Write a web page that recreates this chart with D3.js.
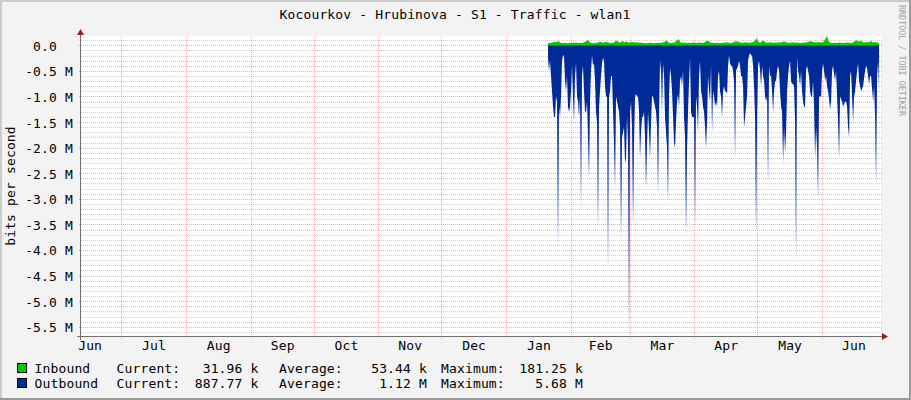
<!DOCTYPE html>
<html>
<head>
<meta charset="utf-8">
<script src="https://cdn.jsdelivr.net/npm/d3@7"></script>
<style>
  body { margin: 0; background: #fff; }
  svg text { font-family: "DejaVu Sans Mono", monospace; white-space: pre; }
</style>
</head>
<body>
<div id="chart"></div>
<script>
// time window of the graph and of the samples
const timeStart = new Date(2018, 5, 11, 21, 0);
const timeEnd = new Date(2019, 5, 29, 4, 0);
const dataStart = new Date(2019, 0, 21, 1, 0);
const dataEnd = new Date(2019, 5, 28, 6, 0);

// outbound traffic, M bits per second (drawn downwards)
const outbound = [
  0.25, 0.5, 0.3, 0.6, 0.9, 1.2, 1.4, 1.4, 1.0, 1.1,
  4.0, 1.2, 1.4, 1.0, 0.3, 0.2, 0.2, 0.7, 0.9, 0.6,
  1.2, 1.3, 1.2, 0.9, 0.4, 1.0, 1.5, 0.6, 0.35, 1.0,
  1.1, 1.4, 1.0, 3.2, 0.6, 0.4, 0.9, 1.3, 1.3, 1.1,
  1.8, 2.6, 1.1, 0.5, 0.2, 0.4, 0.35, 0.7, 1.3, 1.5,
  3.6, 1.2, 0.9, 0.6, 0.35, 0.25, 0.3, 0.8, 1.0, 1.0,
  4.4, 1.0, 0.9, 0.6, 0.6, 1.3, 1.9, 2.8, 1.0, 1.1,
  1.2, 1.3, 1.6, 3.8, 1.8, 1.7, 1.6, 2.3, 2.2, 1.4,
  1.9, 5.68, 1.3, 1.1, 1.6, 3.5, 1.9, 1.0, 0.95, 1.0,
  1.0, 1.3, 2.2, 1.7, 1.4, 1.4, 1.3, 1.8, 2.8, 1.9,
  1.3, 1.7, 2.2, 1.5, 1.0, 1.0, 1.1, 1.2, 1.3, 1.6,
  2.9, 1.3, 0.3, 0.5, 1.3, 0.35, 0.6, 1.4, 1.7, 2.0,
  3.05, 1.0, 0.45, 0.6, 0.9, 1.4, 1.9, 2.0, 1.5, 1.1,
  0.95, 1.2, 0.7, 0.6, 0.8, 0.5, 1.4, 1.8, 3.7, 2.0,
  1.3, 0.7, 0.25, 1.3, 1.4, 1.4, 1.4, 3.5, 1.0, 1.2,
  1.7, 0.6, 0.3, 0.9, 1.0, 1.2, 1.3, 1.6, 2.0, 1.5,
  0.6, 0.9, 1.1, 0.4, 1.7, 0.9, 1.0, 1.2, 1.1, 1.2,
  0.6, 0.5, 0.9, 1.0, 1.4, 0.9, 0.8, 0.9, 0.9, 0.95,
  0.4, 0.2, 0.35, 0.4, 0.4, 0.5, 0.7, 2.2, 0.5, 0.45,
  0.4, 0.3, 0.4, 0.6, 0.6, 0.8, 1.6, 1.4, 1.2, 1.0,
  0.3, 0.2, 0.15, 0.2, 0.2, 0.4, 0.8, 1.4, 3.7, 1.4,
  0.4, 0.3, 0.5, 0.8, 0.4, 0.6, 0.7, 1.0, 1.1, 1.0,
  2.7, 0.4, 0.6, 0.6, 0.9, 1.3, 0.9, 0.7, 0.7, 0.5,
  0.4, 0.5, 0.9, 1.2, 1.3, 2.3, 1.6, 2.1, 1.7, 0.9,
  0.6, 0.4, 0.3, 0.7, 0.75, 0.75, 0.8, 1.5, 4.2, 0.25,
  0.5, 0.6, 0.8, 0.5, 0.9, 1.1, 1.2, 1.2, 0.5, 0.4,
  0.5, 0.6, 0.9, 1.0, 1.0, 0.7, 1.2, 2.2, 1.6, 2.0,
  3.0, 1.0, 1.0, 1.0, 0.5, 0.35, 0.5, 0.7, 0.6, 0.8,
  0.9, 1.05, 1.25, 1.1, 0.5, 0.4, 0.55, 0.7, 0.5, 1.0,
  1.5, 2.2, 1.0, 1.05, 1.1, 1.2, 1.15, 1.1, 1.1, 1.2,
  1.6, 1.8, 0.6, 0.5, 1.0, 1.5, 1.0, 0.9, 0.7, 0.5,
  0.35, 0.7, 0.8, 0.9, 0.85, 0.8, 0.65, 0.5, 0.4, 0.45,
  0.6, 0.75, 0.6, 0.6, 0.85, 1.1, 0.8, 1.4, 2.7, 0.6,
  0.3, 0.89
];

// inbound traffic, k bits per second
const inbound = [
  40, 45, 50, 70, 60, 85, 55, 45, 50, 45,
  40, 50, 45, 48, 55, 45, 50, 45, 60, 80,
  105, 55, 45, 40, 50, 55, 75, 50, 60, 70,
  55, 45, 50, 60, 95, 70, 55, 85, 60, 75,
  55, 60, 70, 55, 60, 50, 55, 45, 45, 40,
  45, 50, 45, 40, 45, 50, 45, 55, 65, 95,
  60, 45, 50, 55, 90, 125, 60, 50, 55, 45,
  50, 45, 55, 50, 45, 50, 55, 45, 60, 90,
  85, 55, 50, 45, 50, 45, 45, 50, 55, 60,
  50, 45, 50, 75, 80, 70, 55, 50, 60, 55,
  50, 55, 60, 90, 135, 60, 55, 95, 70, 50,
  55, 60, 50, 55, 50, 60, 55, 70, 75, 55,
  50, 55, 60, 50, 55, 50, 45, 50, 55, 60,
  75, 80, 70, 60, 55, 65, 60, 55, 110, 181,
  70, 50, 45, 50, 45, 55, 50, 45, 50, 55,
  50, 45, 55, 85, 100, 70, 95, 60, 55, 70,
  60, 85, 55, 65, 60, 32
];

const monthLabels = ["Jun", "Jul", "Aug", "Sep", "Oct", "Nov", "Dec", "Jan", "Feb", "Mar", "Apr", "May", "Jun"];
const yTicks = [0, -0.5, -1.0, -1.5, -2.0, -2.5, -3.0, -3.5, -4.0, -4.5, -5.0, -5.5];
const yTickLabels = ["0.0  ", "-0.5 M", "-1.0 M", "-1.5 M", "-2.0 M", "-2.5 M", "-3.0 M", "-3.5 M", "-4.0 M", "-4.5 M", "-5.0 M", "-5.5 M"];

const legendNames = ["Inbound", "Outbound"];
const legendCurrent = ["31.96 k", "887.77 k"];
const legendAverage = ["53.44 k", "1.12 M"];
const legendMaximum = ["181.25 k", "5.68 M"];
const seriesColors = ["#00CC00", "#002A97"];

const W = 911, H = 400;
const plot = { left: 81, top: 36, width: 800, height: 300 };

const svg = d3.select("#chart").append("svg")
    .attr("width", W)
    .attr("height", H);

// fond + cadre
svg.append("rect").attr("width", W).attr("height", H).attr("fill", "#F3F3F3");
svg.append("rect").attr("x", 0).attr("y", 0).attr("width", W).attr("height", 2).attr("fill", "#CBCBCB");
svg.append("rect").attr("x", 0).attr("y", 0).attr("width", 2).attr("height", H).attr("fill", "#CBCBCB");
svg.append("rect").attr("x", 0).attr("y", H - 2).attr("width", W).attr("height", 2).attr("fill", "#999999");
svg.append("rect").attr("x", W - 2).attr("y", 0).attr("width", 2).attr("height", H).attr("fill", "#999999");

svg.append("rect")
    .attr("x", plot.left).attr("y", plot.top)
    .attr("width", plot.width).attr("height", plot.height)
    .attr("fill", "#FFFFFF");

// scales
const x = d3.scaleTime()
    .domain([timeStart, timeEnd])
    .range([plot.left, plot.left + plot.width]);

const y = d3.scaleLinear()
    .domain([-5.68, 0.18125])
    .range([plot.top + plot.height, plot.top]);

const stepOut = (dataEnd - dataStart) / (outbound.length - 1);
const stepIn = (dataEnd - dataStart) / (inbound.length - 1);
const outData = outbound.map((v, i) => ({ t: new Date(+dataStart + i * stepOut), v: -v }));
const inData = inbound.map((v, i) => ({ t: new Date(+dataStart + i * stepIn), v: v / 1000 }));

// grid: minor every 0.1 M, major every 0.5 M, months vertical
const minor = d3.range(-56, 2).map(k => k / 10).filter(v => Math.abs(v * 2 - Math.round(v * 2)) > 1e-6);
const px = v => Math.round(v) + 0.5;

svg.append("g").selectAll("line")
    .data(minor)
    .enter().append("line")
    .attr("x1", plot.left).attr("x2", plot.left + plot.width + 1)
    .attr("y1", d => px(y(d))).attr("y2", d => px(y(d)))
    .attr("stroke", "rgba(140,140,140,0.45)")
    .attr("stroke-dasharray", "1,1");

svg.append("g").selectAll("line")
    .data(yTicks)
    .enter().append("line")
    .attr("x1", plot.left - 2).attr("x2", plot.left + plot.width + 1)
    .attr("y1", d => px(y(d))).attr("y2", d => px(y(d)))
    .attr("stroke", "rgba(222,60,60,0.42)")
    .attr("stroke-dasharray", "1,1");

const monthStarts = d3.timeMonth.range(d3.timeMonth.ceil(timeStart), timeEnd);
svg.append("g").selectAll("line")
    .data(monthStarts)
    .enter().append("line")
    .attr("x1", d => px(x(d))).attr("x2", d => px(x(d)))
    .attr("y1", plot.top).attr("y2", plot.top + plot.height + 3)
    .attr("stroke", "rgba(222,60,60,0.38)")
    .attr("stroke-dasharray", "1,1");

// areas
const area = d3.area()
    .x(d => x(d.t))
    .y0(y(0))
    .y1(d => y(d.v));

svg.append("path")
    .datum(inData)
    .attr("d", area)
    .attr("fill", seriesColors[0]);

svg.append("path")
    .datum(outData)
    .attr("d", area)
    .attr("fill", seriesColors[1]);

// axis lines + arrows
svg.append("line")
    .attr("x1", plot.left - 4).attr("x2", plot.left + plot.width + 2)
    .attr("y1", px(plot.top + plot.height)).attr("y2", px(plot.top + plot.height))
    .attr("stroke", "#707070");
svg.append("line")
    .attr("x1", px(plot.left - 1)).attr("x2", px(plot.left - 1))
    .attr("y1", plot.top - 2).attr("y2", plot.top + plot.height + 4)
    .attr("stroke", "#707070");
svg.append("path")
    .attr("d", `M${plot.left + plot.width + 1},${plot.top + plot.height - 3}l6,3.5l-6,3.5z`)
    .attr("fill", "#9C1C1C");
svg.append("path")
    .attr("d", `M${plot.left - 4},${plot.top - 1}l3.5,-6l3.5,6z`)
    .attr("fill", "#9C1C1C");

// y axis labels
const yAxis = svg.append("g")
    .attr("transform", `translate(${plot.left},0)`)
    .call(d3.axisLeft(y).tickValues(yTicks).tickSize(0).tickPadding(8)
        .tickFormat((d, i) => yTickLabels[i]));
yAxis.select(".domain").remove();
yAxis.selectAll("text")
    .style("font-family", "'DejaVu Sans Mono', monospace")
    .style("font-size", "13px")
    .style("letter-spacing", "0.15px")
    .attr("dy", "0.38em")
    .attr("fill", "#000");

// x axis labels at mid-month
const monthMids = d3.timeMonth.range(d3.timeMonth.floor(timeStart), timeEnd)
    .map(m => new Date((+m + +d3.timeMonth.offset(m, 1)) / 2));
const xAxis = svg.append("g")
    .attr("transform", `translate(0,${plot.top + plot.height})`)
    .call(d3.axisBottom(x).tickValues(monthMids).tickSize(0).tickPadding(5)
        .tickFormat((d, i) => monthLabels[i]));
xAxis.select(".domain").remove();
xAxis.selectAll("text")
    .style("font-family", "'DejaVu Sans Mono', monospace")
    .style("font-size", "13px")
    .style("letter-spacing", "0.15px")
    .attr("fill", "#000");

// title
svg.append("text")
    .attr("x", 455).attr("y", 19)
    .attr("text-anchor", "middle")
    .style("font-size", "13px")
    .style("letter-spacing", "0.15px")
    .text("Kocourkov - Hrubinova - S1 - Traffic - wlan1");

// y title
svg.append("text")
    .attr("transform", "translate(15,186) rotate(-90)")
    .attr("text-anchor", "middle")
    .style("font-size", "13px")
    .style("letter-spacing", "0.15px")
    .text("bits per second");

// watermark
svg.append("text")
    .attr("transform", "translate(899,5) rotate(90)")
    .style("font-size", "8.4px")
    .attr("fill", "#A0A0A0")
    .text("RRDTOOL / TOBI OETIKER");

// legend
const legend = svg.append("g").style("font-size", "13px").style("letter-spacing", "0.15px");
legendNames.forEach((name, i) => {
    const base = 372.5 + i * 15;
    legend.append("rect")
        .attr("x", 17.5).attr("y", base - 9)
        .attr("width", 9).attr("height", 9)
        .attr("fill", seriesColors[i])
        .attr("stroke", "#000");
    legend.append("text").attr("x", 34.5).attr("y", base).text(name);
    legend.append("text").attr("x", 116.5).attr("y", base).text("Current:");
    legend.append("text").attr("x", 258.5).attr("y", base).attr("text-anchor", "end").text(legendCurrent[i]);
    legend.append("text").attr("x", 279).attr("y", base).text("Average:");
    legend.append("text").attr("x", 427).attr("y", base).attr("text-anchor", "end").text(legendAverage[i]);
    legend.append("text").attr("x", 441).attr("y", base).text("Maximum:");
    legend.append("text").attr("x", 583).attr("y", base).attr("text-anchor", "end").text(legendMaximum[i]);
});
</script>
</body>
</html>
